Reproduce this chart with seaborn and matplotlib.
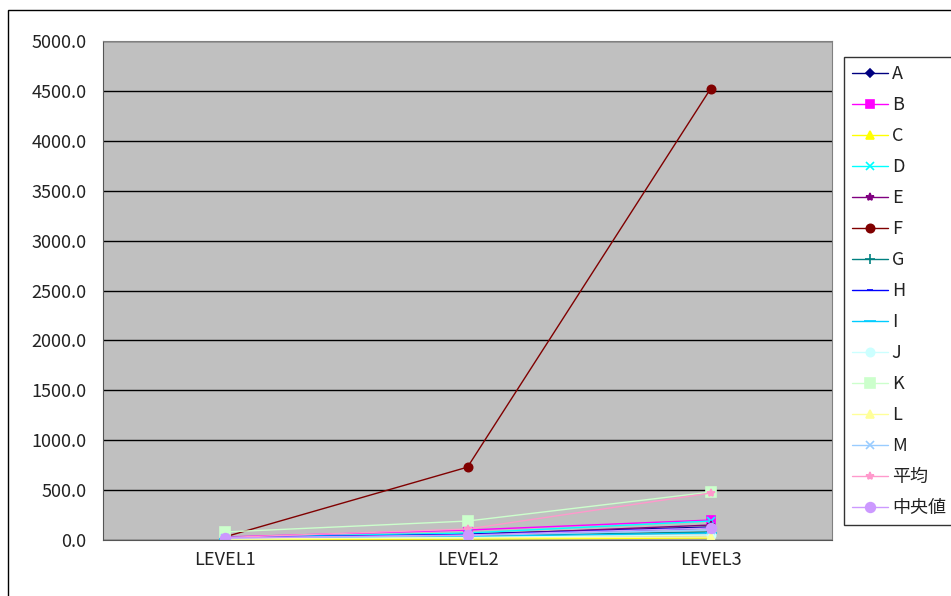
import matplotlib
matplotlib.use('Agg')
import matplotlib.pyplot as plt
import matplotlib.patches as mpatches
import matplotlib.ticker as ticker
import seaborn as sns
import pandas as pd

# === data ===
levels = ['LEVEL1', 'LEVEL2', 'LEVEL3']
series_names = ['A', 'B', 'C', 'D', 'E', 'F', 'G', 'H', 'I', 'J', 'K', 'L', 'M', '平均', '中央値']
A = [20, 60, 130]
B = [30, 100, 200]
C = [5, 10, 20]
D = [25, 70, 190]
E = [15, 50, 150]
F = [30, 730, 4520]
G = [20, 40, 80]
H = [25, 55, 120]
I = [15, 35, 70]
J = [10, 25, 50]
K = [80, 190, 480]
L = [10, 20, 30]
M = [20, 45, 100]
mean_vals = [25, 110, 470]
median_vals = [20, 50, 120]
all_values = [A, B, C, D, E, F, G, H, I, J, K, L, M, mean_vals, median_vals]

colors = ['#000080', '#FF00FF', '#FFFF00', '#00FFFF', '#800080', '#800000', '#008080',
          '#0000FF', '#00CCFF', '#CCFFFF', '#CCFFCC', '#FFFF99', '#99CCFF', '#FF99CC', '#CC99FF']
markers = ['D', 's', '^', 'x', '*', 'o', '+', '_', '_', 'o', 's', '^', 'x', '*', 'o']
msizes = [4, 6, 6, 6, 6, 6, 7, 5, 8, 6, 7, 6, 6, 6, 7]

rows = []
for name, vals in zip(series_names, all_values):
    for lvl, v in zip(levels, vals):
        rows.append({'series': name, 'level': lvl, 'value': v})
df = pd.DataFrame(rows)

sns.set_style('white')
plt.rcParams['font.family'] = ['Noto Sans CJK JP', 'DejaVu Sans']

fig = plt.figure(figsize=(9.51, 5.96), dpi=100)
ax = fig.add_axes([103 / 951, 1 - 540 / 596, (832 - 103) / 951, (540 - 41) / 596])
ax.set_facecolor('#C0C0C0')

xpos = {lvl: i for i, lvl in enumerate(levels)}
df['x'] = df['level'].map(xpos)

for name, col, mk, ms in zip(series_names, colors, markers, msizes):
    sub = df[df['series'] == name]
    sns.lineplot(data=sub, x='x', y='value', ax=ax, color=col, marker=mk, markersize=ms,
                 markeredgecolor=col, markerfacecolor=col, linewidth=1.0, label=name,
                 markeredgewidth=1.2)

ax.set_xlim(-0.5, 2.5)
ax.set_ylim(0, 5000)
ax.set_xticks(range(len(levels)))
ax.set_xticklabels(levels)
ax.set_xticks([0.5, 1.5], minor=True)
ax.yaxis.set_major_locator(ticker.MultipleLocator(500))
ax.yaxis.set_major_formatter(ticker.FormatStrFormatter('%.1f'))
ax.yaxis.grid(True, color='black', linewidth=1)
ax.set_axisbelow(True)
ax.set_xlabel('')
ax.set_ylabel('')
ax.tick_params(axis='y', length=0, labelsize=13, pad=12, labelcolor='#222222')
ax.tick_params(axis='x', which='major', length=0, labelsize=13, pad=8, labelcolor='#222222')
ax.tick_params(axis='x', which='minor', length=6, direction='in', color='#555555', width=1)
for s in ['top', 'right']:
    ax.spines[s].set_color('#808080')
for s in ['left', 'bottom']:
    ax.spines[s].set_color('#555555')

leg = ax.legend(loc='upper left', bbox_to_anchor=(844 / 951, 1 - 57 / 596),
                bbox_transform=fig.transFigure, frameon=True, fancybox=False,
                edgecolor='black', fontsize=13, labelspacing=0.72, handlelength=2.0,
                handletextpad=0.2, borderpad=0.45, borderaxespad=0)
leg.get_frame().set_linewidth(1.0)
for t in leg.get_texts():
    t.set_color('#222222')

# outer chart border
fig.patches.append(mpatches.Rectangle((8 / 951, -0.1), 1.2, 1 - 10 / 596 + 0.1,
                                      transform=fig.transFigure, fill=False,
                                      edgecolor='black', linewidth=1))

plt.savefig('out.png', dpi=100)
plt.close()
